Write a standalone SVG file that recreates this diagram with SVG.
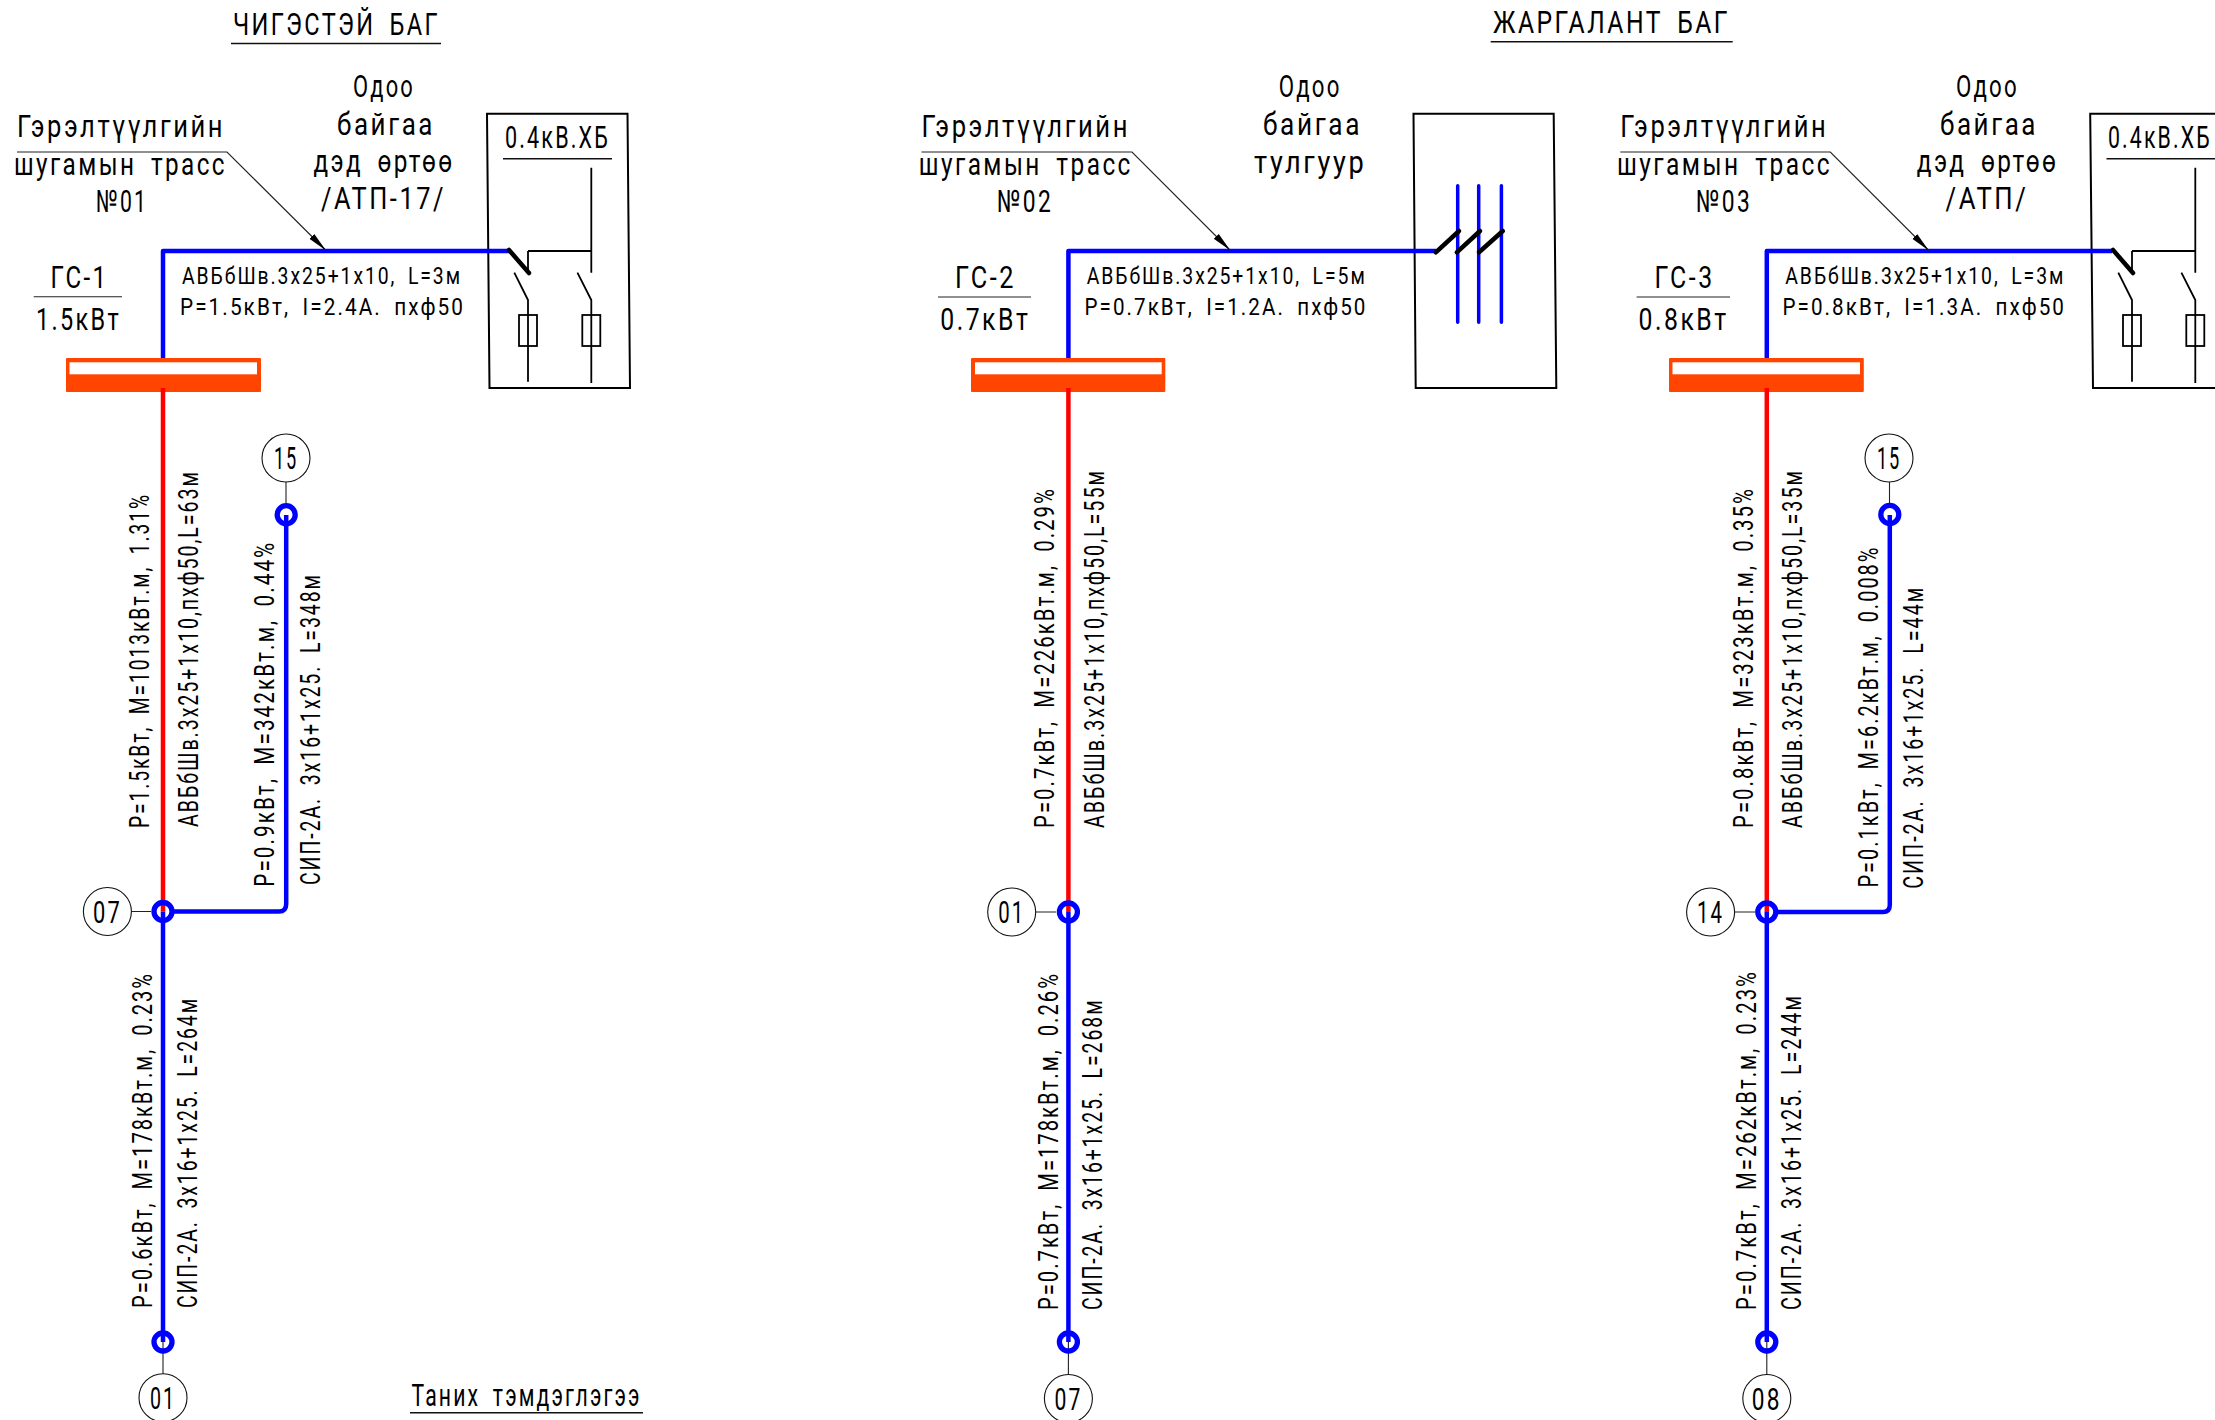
<svg xmlns="http://www.w3.org/2000/svg" width="2215" height="1420" viewBox="0 0 2215 1420">
<style>
text{font-family:Roboto,"Liberation Sans",Arial,sans-serif;font-weight:400;fill:#000;letter-spacing:.1em;word-spacing:.25em}
.a{font-size:31px}
.b{font-size:24px}
.c{font-size:27px}
.d{font-size:31px;text-anchor:middle}
.blue{fill:none;stroke:#0000ff;stroke-width:4.5;stroke-linejoin:round}
.red{fill:none;stroke:#ff0000;stroke-width:4.5}
.bar{fill:none;stroke:#0000ff;stroke-width:3.5;stroke-linecap:round}
.thin{fill:none;stroke:#222;stroke-width:1.1}
.ul{fill:none;stroke:#111;stroke-width:1.6}
.box{fill:#fff;stroke:#000;stroke-width:2}
.blk{fill:none;stroke:#000;stroke-width:1.8}
.hv{fill:none;stroke:#000;stroke-width:4.5;stroke-linecap:round}
.ring{fill:none;stroke:#0000ff;stroke-width:5.3}
.num{fill:#fff;stroke:#111;stroke-width:1.1}
.busf{fill:#ff4500}
.busi{fill:#fff}
</style>
<defs>
<marker id="arr" markerUnits="userSpaceOnUse" markerWidth="22" markerHeight="12" refX="20" refY="6" orient="auto"><path d="M0,2.5L20,6L0,9.5Z" fill="#000"/></marker>
<g id="sw">
<path class="blk" d="M0,251H63.3M63.3,167.7V272.7M0,251V272"/>
<path class="hv" d="M-19,250L1,273"/>
<path class="blk" d="M-13.7,272.7L0,300V381.7M49.4,272.7L63.3,300V383"/>
<rect class="blk" x="-9" y="315" width="18" height="31"/>
<rect class="blk" x="54.3" y="315" width="18" height="31"/>
</g>
</defs>
<rect width="2215" height="1420" fill="#fff"/>

<g id="node-box1"><path class="box" d="M487,113.7H627.5L630,388H489.5Z"/></g>
<g id="node-box2"><path class="box" d="M1413.5,113.7H1553.7L1556.3,388H1415.7Z"/></g>
<g id="node-box3"><path class="box" d="M2220,113.7H2090.2L2093,388H2220"/></g>

<g id="connectors">
<path class="thin" d="M107,911.5H151M163,1342V1374M286,482V503"/>
<path class="thin" d="M1012,912H1056M1068.4,1342V1375"/>
<path class="thin" d="M1711,912H1755M1766.8,1342V1375M1889.5,482V503"/>
<path class="red" d="M163,388V911.5"/>
<path class="red" d="M1068.4,388V912"/>
<path class="red" d="M1766.8,388V912"/>
<path class="blue" d="M163,358V251H509"/>
<path class="blue" d="M163,911.5V1342"/>
<path class="blue" d="M172,911.5H279Q286.2,911.5 286.2,904V515"/>
<path class="blue" d="M1068.4,358V251H1436"/>
<path class="blue" d="M1068.4,912V1342"/>
<path class="blue" d="M1766.8,358V251H2112"/>
<path class="blue" d="M1766.8,912V1342"/>
<path class="blue" d="M1776,912H1883Q1889.8,912 1889.8,905V515"/>
<path class="thin" marker-end="url(#arr)" d="M17,152H227L326,250.5"/>
<path class="thin" marker-end="url(#arr)" d="M921.5,152H1132L1230.4,250.5"/>
<path class="thin" marker-end="url(#arr)" d="M1620.3,152H1830.3L1928.8,250.5"/>
</g>

<g id="node-bus1"><rect class="busf" x="66" y="358" width="195" height="34" rx="1"/><rect class="busi" x="69.5" y="362.3" width="187.5" height="12"/></g>
<g id="node-bus2"><rect class="busf" x="971" y="358" width="194.3" height="34" rx="1"/><rect class="busi" x="975" y="362.3" width="186.7" height="12"/></g>
<g id="node-bus3"><rect class="busf" x="1669" y="358" width="194.8" height="34" rx="1"/><rect class="busi" x="1672.5" y="362.3" width="187.5" height="12"/></g>
<path class="red" d="M163,388V392M1068.4,388V392M1766.8,388V392"/>

<g id="node-switch1"><use href="#sw" x="528"/></g>
<g id="node-pole">
<path class="bar" d="M1457.7,185.7V322.3M1478.7,185.7V322.3M1501.4,185.7V322.3"/>
<path class="hv" d="M1435.8,252.3L1459,231M1456.8,252.3L1480,231M1479,252.3L1502.8,231"/>
</g>
<g id="node-switch3"><use href="#sw" x="2132"/></g>

<g id="node-r1"><circle class="ring" cx="163" cy="911.5" r="9"/><circle class="num" cx="107.4" cy="911.5" r="24"/><text class="d" x="107.4" y="922.5" textLength="29" lengthAdjust="spacingAndGlyphs">07</text></g>
<g id="node-r2"><circle class="ring" cx="286.2" cy="514.7" r="9"/><circle class="num" cx="286" cy="458" r="24"/><text class="d" x="286" y="469" textLength="24" lengthAdjust="spacingAndGlyphs">15</text></g>
<g id="node-r3"><circle class="ring" cx="163" cy="1342" r="9"/><circle class="num" cx="163" cy="1397.7" r="24"/><text class="d" x="163" y="1409" textLength="26" lengthAdjust="spacingAndGlyphs">01</text></g>
<g id="node-r4"><circle class="ring" cx="1068.4" cy="912" r="9"/><circle class="num" cx="1011.7" cy="912" r="24"/><text class="d" x="1011.7" y="923" textLength="27" lengthAdjust="spacingAndGlyphs">01</text></g>
<g id="node-r5"><circle class="ring" cx="1068.4" cy="1342" r="9"/><circle class="num" cx="1068.4" cy="1398.5" r="24"/><text class="d" x="1068.4" y="1410" textLength="28" lengthAdjust="spacingAndGlyphs">07</text></g>
<g id="node-r6"><circle class="ring" cx="1766.8" cy="912" r="9"/><circle class="num" cx="1710.6" cy="912" r="24"/><text class="d" x="1710.6" y="923" textLength="27" lengthAdjust="spacingAndGlyphs">14</text></g>
<g id="node-r7"><circle class="ring" cx="1889.8" cy="514.4" r="9"/><circle class="num" cx="1889" cy="458" r="24"/><text class="d" x="1889" y="469" textLength="24" lengthAdjust="spacingAndGlyphs">15</text></g>
<g id="node-r8"><circle class="ring" cx="1766.8" cy="1342" r="9"/><circle class="num" cx="1766.8" cy="1398.5" r="24"/><text class="d" x="1766.8" y="1410" textLength="30" lengthAdjust="spacingAndGlyphs">08</text></g>

<g id="labels1">
<text class="a" x="233" y="35" textLength="207" lengthAdjust="spacingAndGlyphs">ЧИГЭСТЭЙ БАГ</text>
<path class="ul" d="M231,43.5H441"/>
<text class="a" x="353" y="97" textLength="62" lengthAdjust="spacingAndGlyphs">Одоо</text>
<text class="a" x="337" y="135" textLength="98" lengthAdjust="spacingAndGlyphs">байгаа</text>
<text class="a" x="313.5" y="172" textLength="141" lengthAdjust="spacingAndGlyphs">дэд өртөө</text>
<text class="a" x="321" y="209" textLength="125" lengthAdjust="spacingAndGlyphs">/АТП-17/</text>
<text class="a" x="17" y="137" textLength="208" lengthAdjust="spacingAndGlyphs">Гэрэлтүүлгийн</text>
<text class="a" x="14" y="175" textLength="213" lengthAdjust="spacingAndGlyphs">шугамын трасс</text>
<text class="a" x="96" y="212" textLength="52" lengthAdjust="spacingAndGlyphs">№01</text>
<text class="a" x="50.5" y="288" textLength="58" lengthAdjust="spacingAndGlyphs">ГС-1</text>
<path class="thin" d="M33.7,296.7H122"/>
<text class="a" x="36" y="330" textLength="85" lengthAdjust="spacingAndGlyphs">1.5кВт</text>
<text class="b" x="182" y="284" textLength="280" lengthAdjust="spacingAndGlyphs">АВБбШв.3х25+1х10, L=3м</text>
<text class="b" x="180" y="315" textLength="285" lengthAdjust="spacingAndGlyphs">P=1.5кВт, I=2.4А. пхф50</text>
<text class="a" x="505" y="147.7" textLength="105" lengthAdjust="spacingAndGlyphs">0.4кВ.ХБ</text>
<path class="ul" d="M503,158.7H612"/>
<text class="c" transform="translate(149.4,828) rotate(-90)" textLength="335" lengthAdjust="spacingAndGlyphs">P=1.5кВт, M=1013кВт.м, 1.31%</text>
<text class="c" transform="translate(197.8,827) rotate(-90)" textLength="357" lengthAdjust="spacingAndGlyphs">АВБбШв.3х25+1х10,пхф50,L=63м</text>
<text class="c" transform="translate(274.4,886.7) rotate(-90)" textLength="346" lengthAdjust="spacingAndGlyphs">P=0.9кВт, M=342кВт.м, 0.44%</text>
<text class="c" transform="translate(320,885) rotate(-90)" textLength="312" lengthAdjust="spacingAndGlyphs">СИП-2А. 3х16+1х25. L=348м</text>
<text class="c" transform="translate(151.5,1308) rotate(-90)" textLength="336" lengthAdjust="spacingAndGlyphs">P=0.6кВт, M=178кВт.м, 0.23%</text>
<text class="c" transform="translate(196.5,1308) rotate(-90)" textLength="311" lengthAdjust="spacingAndGlyphs">СИП-2А. 3х16+1х25. L=264м</text>
<text class="a" x="411.6" y="1405.7" textLength="230" lengthAdjust="spacingAndGlyphs">Таних тэмдэглэгээ</text>
<path class="ul" d="M410,1412.7H643"/>
</g>

<g id="labels2">
<text class="a" x="1493" y="32.7" textLength="237" lengthAdjust="spacingAndGlyphs">ЖАРГАЛАНТ БАГ</text>
<path class="ul" d="M1490.7,41.7H1732.7"/>
<text class="a" x="1278.7" y="96.7" textLength="63" lengthAdjust="spacingAndGlyphs">Одоо</text>
<text class="a" x="1263" y="135" textLength="99" lengthAdjust="spacingAndGlyphs">байгаа</text>
<text class="a" x="1254" y="172.7" textLength="112.6" lengthAdjust="spacingAndGlyphs">тулгуур</text>
<text class="a" x="921.5" y="137" textLength="208.5" lengthAdjust="spacingAndGlyphs">Гэрэлтүүлгийн</text>
<text class="a" x="918.8" y="175" textLength="214" lengthAdjust="spacingAndGlyphs">шугамын трасс</text>
<text class="a" x="997" y="212" textLength="56" lengthAdjust="spacingAndGlyphs">№02</text>
<text class="a" x="955" y="288" textLength="61" lengthAdjust="spacingAndGlyphs">ГС-2</text>
<path class="thin" d="M938,297H1031"/>
<text class="a" x="940.3" y="330" textLength="90" lengthAdjust="spacingAndGlyphs">0.7кВт</text>
<text class="b" x="1086.7" y="284" textLength="280" lengthAdjust="spacingAndGlyphs">АВБбШв.3х25+1х10, L=5м</text>
<text class="b" x="1084.5" y="315" textLength="283" lengthAdjust="spacingAndGlyphs">P=0.7кВт, I=1.2А. пхф50</text>
<text class="c" transform="translate(1054.4,828) rotate(-90)" textLength="341" lengthAdjust="spacingAndGlyphs">P=0.7кВт, M=226кВт.м, 0.29%</text>
<text class="c" transform="translate(1104,828) rotate(-90)" textLength="359" lengthAdjust="spacingAndGlyphs">АВБбШв.3х25+1х10,пхф50,L=55м</text>
<text class="c" transform="translate(1057.6,1310) rotate(-90)" textLength="338" lengthAdjust="spacingAndGlyphs">P=0.7кВт, M=178кВт.м, 0.26%</text>
<text class="c" transform="translate(1102,1310) rotate(-90)" textLength="311.5" lengthAdjust="spacingAndGlyphs">СИП-2А. 3х16+1х25. L=268м</text>
</g>

<g id="labels3">
<text class="a" x="1955.9" y="96.7" textLength="63" lengthAdjust="spacingAndGlyphs">Одоо</text>
<text class="a" x="1940" y="135" textLength="98" lengthAdjust="spacingAndGlyphs">байгаа</text>
<text class="a" x="1916.8" y="172" textLength="141.5" lengthAdjust="spacingAndGlyphs">дэд өртөө</text>
<text class="a" x="1945.5" y="209" textLength="83" lengthAdjust="spacingAndGlyphs">/АТП/</text>
<text class="a" x="1620.3" y="137" textLength="208" lengthAdjust="spacingAndGlyphs">Гэрэлтүүлгийн</text>
<text class="a" x="1617" y="175" textLength="215" lengthAdjust="spacingAndGlyphs">шугамын трасс</text>
<text class="a" x="1696" y="212" textLength="56" lengthAdjust="spacingAndGlyphs">№03</text>
<text class="a" x="1654.6" y="288" textLength="60" lengthAdjust="spacingAndGlyphs">ГС-3</text>
<path class="thin" d="M1636.6,297H1730"/>
<text class="a" x="1638.6" y="330" textLength="90" lengthAdjust="spacingAndGlyphs">0.8кВт</text>
<text class="b" x="1785.3" y="284" textLength="280" lengthAdjust="spacingAndGlyphs">АВБбШв.3х25+1х10, L=3м</text>
<text class="b" x="1782.5" y="315" textLength="283.5" lengthAdjust="spacingAndGlyphs">P=0.8кВт, I=1.3А. пхф50</text>
<text class="a" transform="translate(2108,147.7) scale(.687,1)">0.4кВ.ХБ</text>
<path class="ul" d="M2106.5,158.7H2215"/>
<text class="c" transform="translate(1753.3,828) rotate(-90)" textLength="341" lengthAdjust="spacingAndGlyphs">P=0.8кВт, M=323кВт.м, 0.35%</text>
<text class="c" transform="translate(1801.8,828) rotate(-90)" textLength="359" lengthAdjust="spacingAndGlyphs">АВБбШв.3х25+1х10,пхф50,L=35м</text>
<text class="c" transform="translate(1878.4,887.5) rotate(-90)" textLength="342" lengthAdjust="spacingAndGlyphs">P=0.1кВт, M=6.2кВт.м, 0.008%</text>
<text class="c" transform="translate(1923,888.7) rotate(-90)" textLength="303" lengthAdjust="spacingAndGlyphs">СИП-2А. 3х16+1х25. L=44м</text>
<text class="c" transform="translate(1756,1310) rotate(-90)" textLength="340" lengthAdjust="spacingAndGlyphs">P=0.7кВт, M=262кВт.м, 0.23%</text>
<text class="c" transform="translate(1800.6,1310) rotate(-90)" textLength="316" lengthAdjust="spacingAndGlyphs">СИП-2А. 3х16+1х25. L=244м</text>
</g>
</svg>
